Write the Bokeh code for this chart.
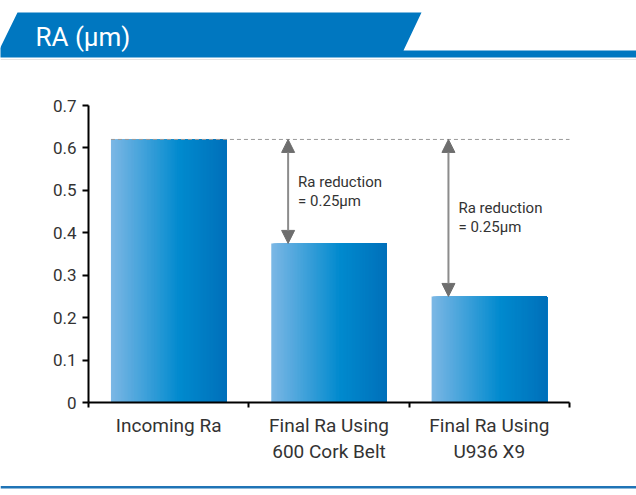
from bokeh.plotting import figure
from bokeh.models import (ColumnDataSource, Range1d, FixedTicker, NumeralTickFormatter,
                          Arrow, NormalHead)
from bokeh.core.properties import value
from bokeh.embed import file_html
from bokeh.resources import INLINE

# ---------------- data ----------------
title_text = "RA (μm)"
categories = ["Incoming Ra", "Final Ra Using\n600 Cork Belt", "Final Ra Using\nU936 X9"]
ra_values = [0.62, 0.375, 0.25]
reduction_labels = ["Ra reduction\n= 0.25μm", "Ra reduction\n= 0.25μm"]
y_ticks = [0, 0.1, 0.2, 0.3, 0.4, 0.5, 0.6, 0.7]

# ---------------- layout / styles ----------------
FIG_W, FIG_H = 636, 495
PLOT_L, PLOT_R, PLOT_T, PLOT_B = 88, 569, 105, 402      # pixel box of the axes
X_MAX = len(categories)
Y_MAX = y_ticks[-1]
PX = (PLOT_R - PLOT_L) / X_MAX
PY = (PLOT_B - PLOT_T) / Y_MAX


def dx(px):
    return (px - PLOT_L) / PX


def dy(py):
    return (PLOT_B - py) / PY


FONT = "Roboto"
BLUE = "#0077c0"
TXT = "#333333"
W = 0.72          # bar width (category units)
N = 80            # gradient strips per bar
stops = [(0.0, (124, 183, 229)), (0.6, (0, 138, 206)), (1.0, (0, 112, 186))]


def grad(t):
    for (t0, c0), (t1, c1) in zip(stops[:-1], stops[1:]):
        if t <= t1:
            f = (t - t0) / (t1 - t0)
            return "#%02x%02x%02x" % tuple(int(round(a + (b - a) * f)) for a, b in zip(c0, c1))
    return "#%02x%02x%02x" % stops[-1][1]


p = figure(width=FIG_W, height=FIG_H,
           x_range=Range1d(dx(0), dx(FIG_W)), y_range=Range1d(dy(FIG_H), dy(0)),
           output_backend="svg", toolbar_location=None, min_border=0)
p.grid.visible = False
p.outline_line_color = None

# ---------------- header ----------------
hx = [17, 421, 403, 640, 640, -5]
hy = [12, 12, 50, 50, 57, 57]
p.patch([dx(v) for v in hx], [dy(v) for v in hy], fill_color=BLUE, line_color=None)
p.segment(x0=[dx(0)], y0=[dy(59)], x1=[dx(FIG_W)], y1=[dy(59)], line_color="#e4e4e4", line_width=1)
p.text(x=[dx(35)], y=[dy(36)], text=[title_text], text_color="white", text_font=value(FONT),
       text_font_size="26px", text_baseline="middle", text_align="left")
# footer line
p.quad(left=[dx(0)], right=[dx(FIG_W)], top=[dy(485.5)], bottom=[dy(488)],
       fill_color="#1f74b6", line_color=None)

# ---------------- gradient bars (left-anchored strips) ----------------
ql, qr, qt, qc = [], [], [], []
for i, v in enumerate(ra_values):
    left = i + 0.5 - W / 2
    for k in range(N):
        ql.append(left + k * W / N)
        qr.append(left + W)
        qt.append(v)
        qc.append(grad((k + 0.5) / N))
p.quad(left="l", right="r", top="t", bottom=0, fill_color="c", line_color=None,
       source=ColumnDataSource(dict(l=ql, r=qr, t=qt, c=qc)))

# dashed reference line at incoming Ra
p.segment(x0=[0.5 - W / 2], y0=[ra_values[0]], x1=[X_MAX], y1=[ra_values[0]],
          line_color="#9a9a9a", line_width=1, line_dash="4 3")

# reduction arrows + labels
ax, ay0, ay1, tl, ty = [], [], [], [], []
for j, i in enumerate(range(1, len(ra_values))):
    ax.append(i + 0.5 - W / 2 + 0.105)
    ay0.append(ra_values[0])
    ay1.append(ra_values[i])
    tl.append(reduction_labels[j])
    ty.append((ra_values[0] + ra_values[i]) / 2)

asrc = ColumnDataSource(dict(x=ax, y0=ay0, y1=ay1, t=tl, ty=ty))
p.add_layout(Arrow(x_start="x", y_start="y0", x_end="x", y_end="y1", source=asrc,
                   line_color="#8c8c8c", line_width=2,
                   start=NormalHead(size=13, fill_color="#6e6e6e", line_color="#6e6e6e", line_width=1),
                   end=NormalHead(size=13, fill_color="#6e6e6e", line_color="#6e6e6e", line_width=1)))
p.text(x="x", y="ty", text="t", source=asrc, x_offset=10, text_font=value(FONT),
       text_font_size="15px", text_color=TXT, text_baseline="middle", text_align="left",
       text_line_height=1.05)

# ---------------- axes (fixed at data origin) ----------------
yax = p.yaxis[0]
yax.fixed_location = 0
yax.bounds = (0, Y_MAX)
yax.ticker = FixedTicker(ticks=y_ticks)
yax.formatter = NumeralTickFormatter(format="0.[0]")
yax.axis_line_width = 2
yax.axis_line_color = "black"
yax.major_tick_line_width = 2
yax.major_tick_line_color = "black"
yax.major_tick_out = 6
yax.major_tick_in = 0
yax.minor_tick_out = 0
yax.minor_tick_in = 0
yax.major_label_text_font = FONT
yax.major_label_text_font_size = "17px"
yax.major_label_text_color = TXT
yax.major_label_standoff = 6

xax = p.xaxis[0]
xax.fixed_location = 0
xax.bounds = (0, X_MAX)
xax.ticker = FixedTicker(ticks=[i + 0.5 for i in range(len(categories))],
                         minor_ticks=list(range(len(categories) + 1)))
xax.major_label_overrides = {i + 0.5: c for i, c in enumerate(categories)}
xax.axis_line_width = 2
xax.axis_line_color = "black"
xax.major_tick_out = 0
xax.major_tick_in = 0
xax.minor_tick_out = 5
xax.minor_tick_in = 0
xax.minor_tick_line_width = 2
xax.minor_tick_line_color = "black"
xax.major_label_text_font = FONT
xax.major_label_text_font_size = "19px"
xax.major_label_text_line_height = 1.15
xax.major_label_text_color = TXT
xax.major_label_standoff = 6

open("out.html", "w").write(file_html(p, INLINE))
